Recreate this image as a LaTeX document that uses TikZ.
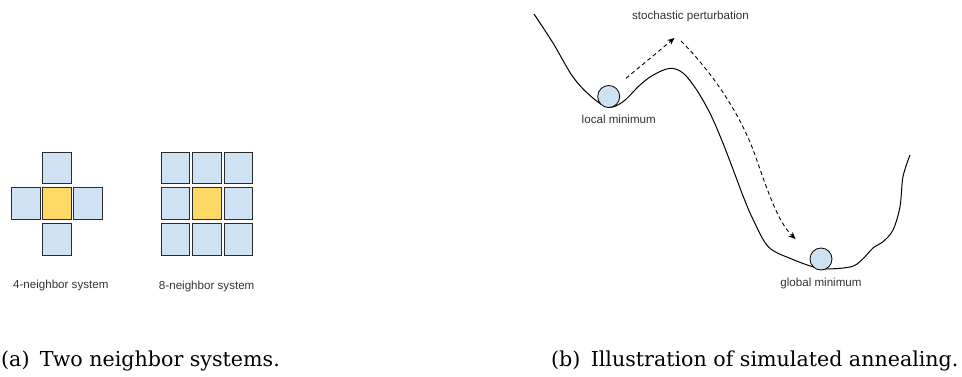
\documentclass[tikz,border=0pt]{standalone}
\usepackage{fontspec}
\newfontfamily\labelfont{Liberation Sans}
\newfontfamily\capfont{DejaVu Serif}
\usetikzlibrary{arrows.meta}
\definecolor{cellblue}{HTML}{CFE2F3}
\definecolor{cellyellow}{HTML}{FFD966}
\definecolor{edgegray}{HTML}{2B2B2B}
\definecolor{textgray}{HTML}{333333}
\begin{document}
\begin{tikzpicture}[x=1pt,y=-1pt,
  cell/.style={draw=edgegray,line width=0.9pt,fill=cellblue,minimum width=28.5pt,minimum height=31.5pt,inner sep=0pt},
  centercell/.style={cell,fill=cellyellow},
  lbl/.style={text=textgray,font=\labelfont\fontsize{11.6}{13}\selectfont,inner sep=0pt},
  subcap/.style={font=\capfont\fontsize{20.6}{24}\selectfont,inner sep=0pt,anchor=base west},
  ball/.style={circle,draw=black,line width=0.8pt,fill=cellblue,minimum size=22pt,inner sep=0pt},
  land/.style={line width=1pt,black},
  jump/.style={line width=0.9pt,dash pattern=on 4pt off 3pt,-{Stealth[length=7pt,width=6pt]}}]
\useasboundingbox (0,0) rectangle (962,376);
% 4-neighbor system
\node[cell] (f1) at (57,167.7) {};
\node[cell] (f2) at (26,203.5) {};
\node[centercell] (f3) at (57,203.5) {};
\node[cell] (f4) at (88,203.5) {};
\node[cell] (f5) at (57,239.2) {};
\node[lbl] (l4) at (60.8,285.7) {4-neighbor system};
% 8-neighbor system
\node[cell] (e1) at (175.5,167.7) {};
\node[cell] (e2) at (206.8,167.7) {};
\node[cell] (e3) at (238.2,167.7) {};
\node[cell] (e4) at (175.5,203.5) {};
\node[centercell] (e5) at (206.8,203.5) {};
\node[cell] (e6) at (238.2,203.5) {};
\node[cell] (e7) at (175.5,239.2) {};
\node[cell] (e8) at (206.8,239.2) {};
\node[cell] (e9) at (238.2,239.2) {};
\node[lbl] (l8) at (206.7,286.7) {8-neighbor system};
% landscape
\draw[land] plot[smooth,tension=0.55] coordinates {(534,14) (553,43) (573,77) (591.7,97) (608.3,107.3) (623,101.7) (640,85) (653.3,75) (670,68.3) (683.3,73.3) (696.7,90) (710,113.3) (721.7,140) (733.3,170) (743.3,196.7) (753.3,220) (768.3,246.7) (790,258.3) (820,268.3) (850,267) (861.7,260) (873,248) (883,241.7) (893,230) (900,206.7) (903,176.7) (910,155)};
\node[ball] (bl) at (608.7,96.5) {};
\node[ball] (bg) at (821,259) {};
\node[lbl] (ll) at (618.8,119) {local minimum};
\node[lbl] (lg) at (821,283.3) {global minimum};
\node[lbl] (lp) at (690.5,16.7) {stochastic perturbation};
% perturbation arrows
\coordinate (a1) at (626,78.3);
\coordinate (a2) at (674.5,38);
\coordinate (b1) at (681,41);
\coordinate (b2) at (795.5,239);
\draw[jump] (a1) -- (a2);
\draw[jump] (b1) .. controls (715,75) and (742,118) .. (755,155) .. controls (768,192) and (778,222) .. (b2);
% captions
\node[subcap] (ca) at (1,366.7) {(a)\hspace{0.5em}Two neighbor systems.};
\node[subcap] (cb) at (551,366.7) {(b)\hspace{0.5em}Illustration of simulated annealing.};
\end{tikzpicture}
\end{document}
